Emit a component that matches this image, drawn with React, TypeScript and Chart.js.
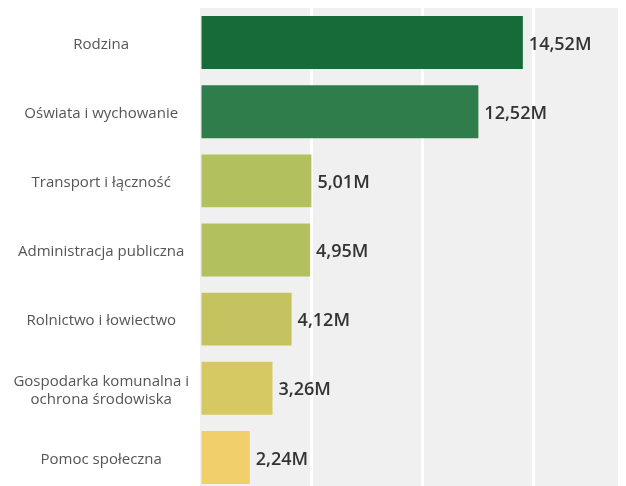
import React, { useEffect, useRef } from "react";
import { Chart, registerables } from "chart.js";

Chart.register(...registerables);

const categories: (string | string[])[] = [
  "Rodzina",
  "Oświata i wychowanie",
  "Transport i łączność",
  "Administracja publiczna",
  "Rolnictwo i łowiectwo",
  ["Gospodarka komunalna i", "ochrona środowiska"],
  "Pomoc społeczna",
];
const values = [14.52, 12.52, 5.01, 4.95, 4.12, 3.26, 2.24];
const valueLabels = ["14,52M", "12,52M", "5,01M", "4,95M", "4,12M", "3,26M", "2,24M"];
const barColors = ["#176b39", "#2e7d4b", "#b2c15e", "#b2c15e", "#c5c35f", "#d6c862", "#f1d06b"];
const gridTicks = [0, 5, 10, 15];

export default function App() {
  const ref = useRef<HTMLCanvasElement>(null);
  useEffect(() => {
    if (!ref.current) return;
    const bgPlugin = {
      id: "bg",
      beforeDraw(chart: any) {
        const { ctx, chartArea } = chart;
        ctx.save();
        ctx.fillStyle = "#f0f0f0";
        ctx.fillRect(chartArea.left, chartArea.top, chartArea.right - chartArea.left, chartArea.bottom - chartArea.top);
        ctx.restore();
      },
    };
    const labelPlugin = {
      id: "vals",
      afterDatasetsDraw(chart: any) {
        const { ctx } = chart;
        const meta = chart.getDatasetMeta(0);
        ctx.save();
        ctx.font = "600 18px 'Open Sans'";
        ctx.fillStyle = "#333333";
        ctx.textAlign = "left";
        ctx.textBaseline = "middle";
        meta.data.forEach((el: any, i: number) => {
          ctx.fillText(valueLabels[i], el.x + 6, el.y + 2);
        });
        ctx.restore();
      },
    };
    const chart = new Chart(ref.current, {
      type: "bar",
      data: {
        labels: categories,
        datasets: [
          {
            data: values,
            backgroundColor: barColors,
            categoryPercentage: 1,
            barPercentage: 0.766,
          },
        ],
      },
      options: {
        indexAxis: "y",
        animation: false,
        responsive: false,
        maintainAspectRatio: false,
        layout: { padding: 0 },
        plugins: { legend: { display: false }, tooltip: { enabled: false } },
        scales: {
          x: {
            min: 0,
            max: 18.8,
            afterBuildTicks(scale: any) {
              scale.ticks = gridTicks.map((v) => ({ value: v }));
            },
            afterFit(scale: any) {
              scale.height = 0;
              scale.paddingLeft = 0;
              scale.paddingRight = 0;
            },
            ticks: { display: false },
            border: { display: false },
            grid: {
              drawTicks: false,
              lineWidth: 3,
              color: (c: any) => (c.tick && c.tick.value === 0 ? "rgba(0,0,0,0)" : "#ffffff"),
            },
          },
          y: {
            afterFit(scale: any) {
              scale.width = 192;
              scale.paddingTop = 0;
              scale.paddingBottom = 0;
            },
            border: { display: false },
            grid: { display: false, drawTicks: false },
            ticks: {
              crossAlign: "center",
              padding: 11,
              labelOffset: 2,
              color: "#555555",
              font: { family: "'Open Sans'", size: 15, lineHeight: 1.2 },
            },
          },
        },
      },
      plugins: [bgPlugin, labelPlugin],
    } as any);
    return () => chart.destroy();
  }, []);
  return <canvas ref={ref} width={610} height={484} style={{ display: "block" }} />;
}
